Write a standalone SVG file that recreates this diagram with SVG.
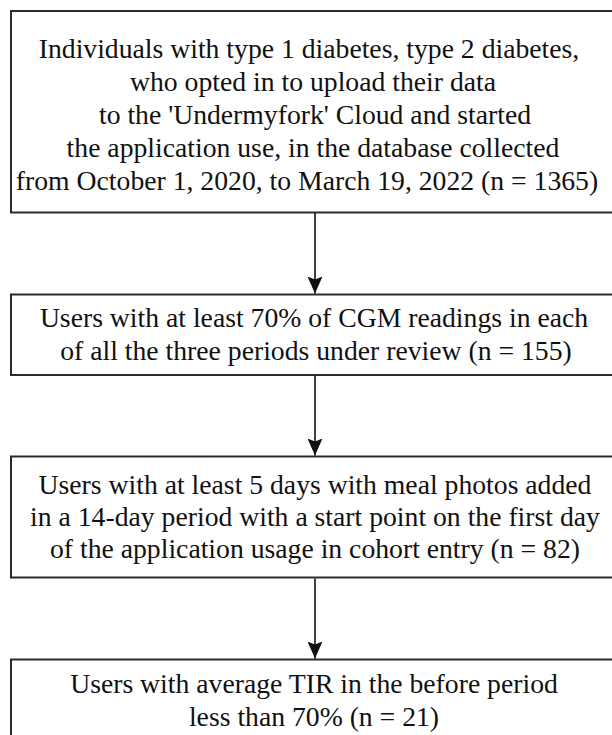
<svg xmlns="http://www.w3.org/2000/svg" width="612" height="735" viewBox="0 0 612 735">
  <style>
    .box { fill: #ffffff; stroke: #2b2b2b; stroke-width: 2; }
    .lbl { font-family: "Liberation Serif", "Times New Roman", serif; font-size: 27.7px; fill: #111111; text-anchor: middle; }
    .conn { stroke: #111111; stroke-width: 1.6; fill: none; marker-end: url(#arrow); }
  </style>
  <defs>
    <marker id="arrow" markerUnits="userSpaceOnUse" viewBox="0 0 17 15" markerWidth="17" markerHeight="15" refX="17" refY="7.5" orient="auto">
      <path d="M0,0 L17,7.5 L0,15 L3,7.5 z" fill="#111111"/>
    </marker>
  </defs>
  <rect x="0" y="0" width="612" height="735" fill="#ffffff"/>

  <g id="node-1">
    <rect class="box" x="11" y="11" width="610" height="201.5"/>
    <text class="lbl" x="309" y="57.5">Individuals with type 1 diabetes, type 2 diabetes,</text>
    <text class="lbl" x="313" y="90.5">who opted in to upload their data</text>
    <text class="lbl" x="315" y="123.5">to the 'Undermyfork' Cloud and started</text>
    <text class="lbl" x="313" y="156.5">the application use, in the database collected</text>
    <text class="lbl" x="307" y="189.5">from October 1, 2020, to March 19, 2022 (n = 1365)</text>
  </g>

  <g id="node-2">
    <rect class="box" x="11" y="294.5" width="610" height="80.5"/>
    <text class="lbl" x="314" y="327">Users with at least 70% of CGM readings in each</text>
    <text class="lbl" x="316" y="360">of all the three periods under review (n = 155)</text>
  </g>

  <g id="node-3">
    <rect class="box" x="11" y="456.5" width="610" height="121"/>
    <text class="lbl" x="315" y="493.5">Users with at least 5 days with meal photos added</text>
    <text class="lbl" x="315" y="525.5">in a 14-day period with a start point on the first day</text>
    <text class="lbl" x="315" y="557.5">of the application usage in cohort entry (n = 82)</text>
  </g>

  <g id="node-4">
    <rect class="box" x="11" y="659.5" width="610" height="90"/>
    <text class="lbl" x="314" y="692.7">Users with average TIR in the before period</text>
    <text class="lbl" x="314" y="725.7">less than 70% (n = 21)</text>
  </g>

  <g id="connectors">
    <line class="conn" x1="315" y1="213" x2="315" y2="293.5"/>
    <line class="conn" x1="315" y1="376" x2="315" y2="455.5"/>
    <line class="conn" x1="315" y1="578.5" x2="315" y2="658.5"/>
  </g>
</svg>
